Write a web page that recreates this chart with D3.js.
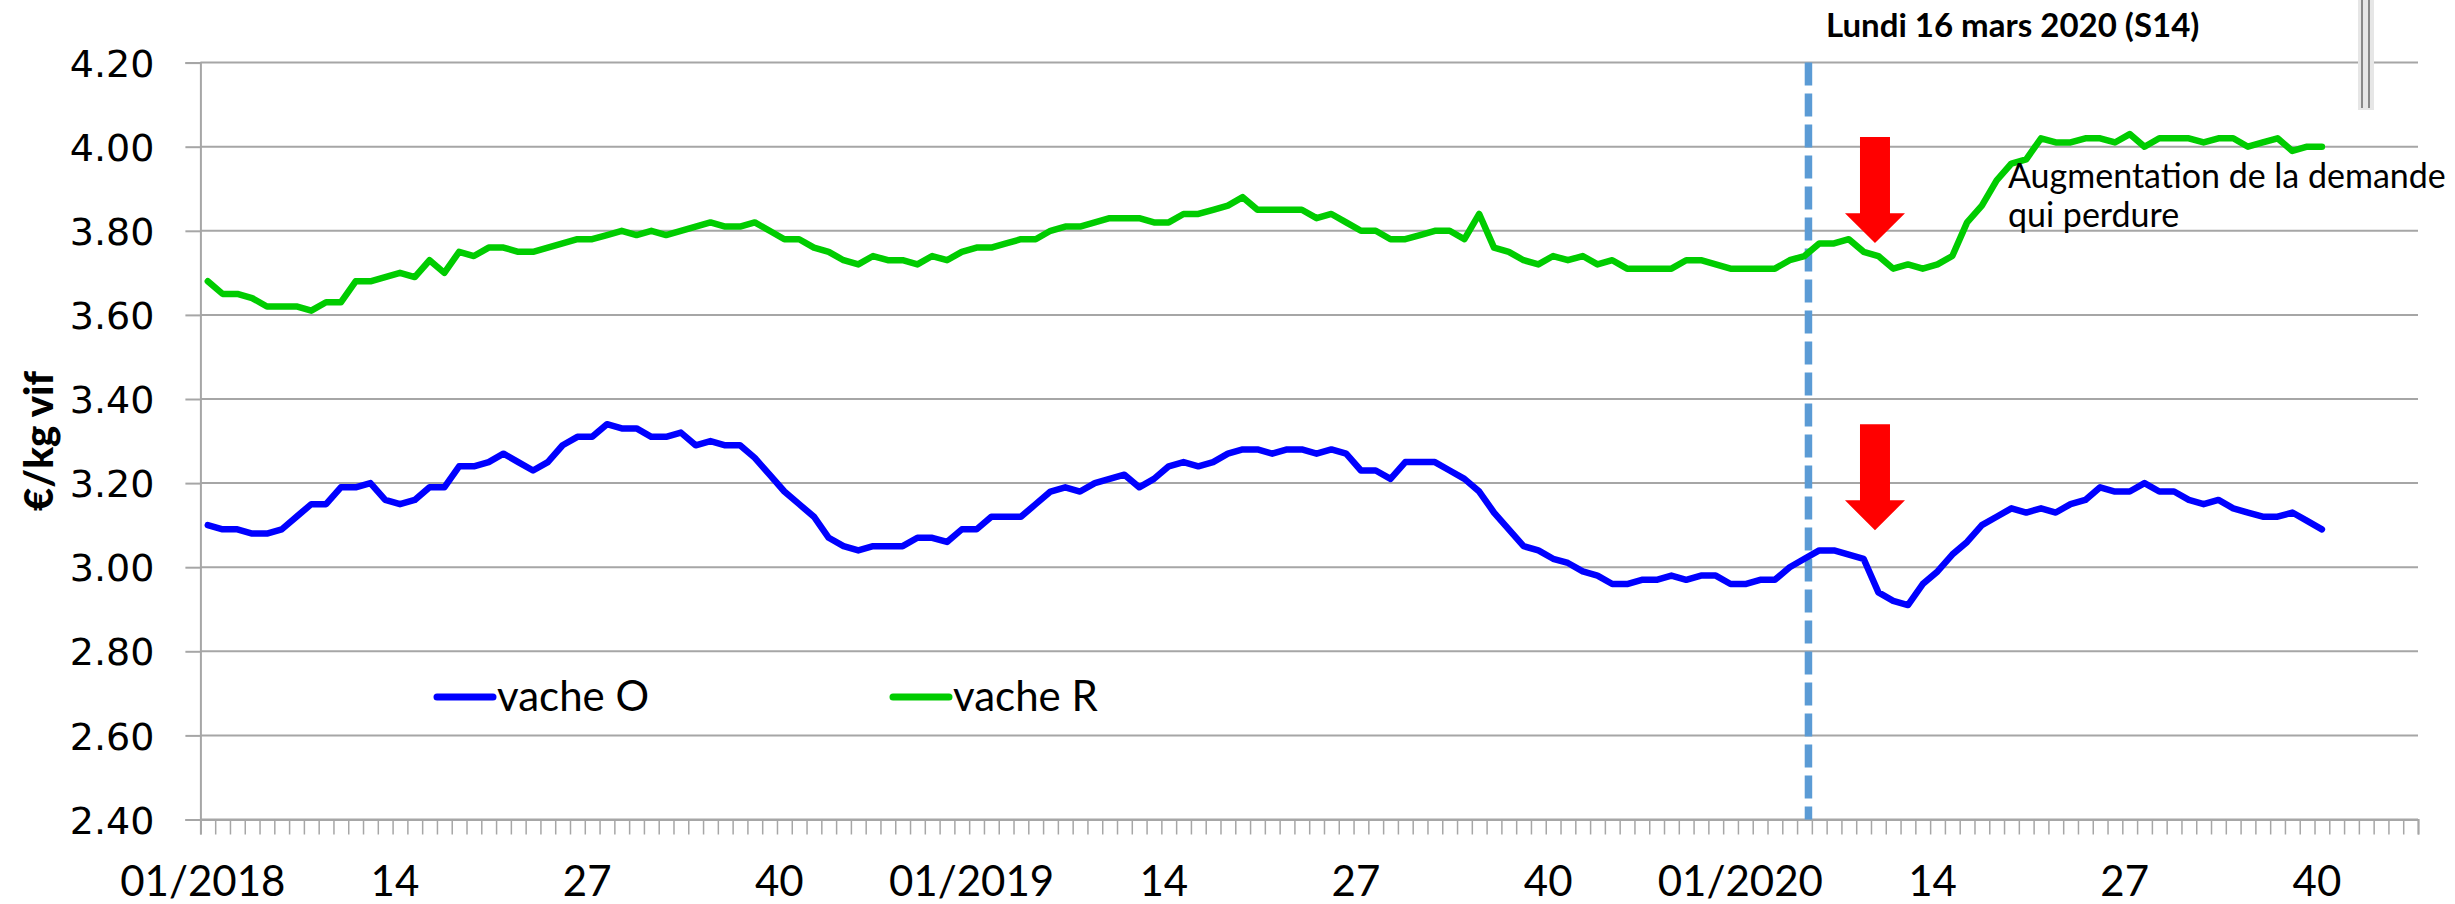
<!DOCTYPE html>
<html><head><meta charset="utf-8">
<script src="https://cdn.jsdelivr.net/npm/d3@7"></script>
<style>body{margin:0;background:#fff;}svg{display:block;}</style>
</head><body>
<svg id="chart" width="2455" height="904"></svg>
<script>
// ---------- DATA ----------
const yearWeeks = [[2018, 52], [2019, 52], [2020, 46]];
const categories = [];
yearWeeks.forEach(([yr, n]) => { for (let w = 1; w <= n; w++) categories.push(yr + "-" + String(w).padStart(2, "0")); });

const tickLabelWeeks = ["2018-01","2018-14","2018-27","2018-40","2019-01","2019-14","2019-27","2019-40","2020-01","2020-14","2020-27","2020-40"];
const tickLabels     = ["01/2018","14","27","40","01/2019","14","27","40","01/2020","14","27","40"];
const yTicks = [2.40, 2.60, 2.80, 3.00, 3.20, 3.40, 3.60, 3.80, 4.00, 4.20];

const vacheO = [
 3.10,3.09,3.09,3.08,3.08,3.09,3.12,3.15,3.15,3.19,
 3.19,3.20,3.16,3.15,3.16,3.19,3.19,3.24,3.24,3.25,
 3.27,3.25,3.23,3.25,3.29,3.31,3.31,3.34,3.33,3.33,
 3.31,3.31,3.32,3.29,3.30,3.29,3.29,3.26,3.22,3.18,
 3.15,3.12,3.07,3.05,3.04,3.05,3.05,3.05,3.07,3.07,
 3.06,3.09,3.09,3.12,3.12,3.12,3.15,3.18,3.19,3.18,
 3.20,3.21,3.22,3.19,3.21,3.24,3.25,3.24,3.25,3.27,
 3.28,3.28,3.27,3.28,3.28,3.27,3.28,3.27,3.23,3.23,
 3.21,3.25,3.25,3.25,3.23,3.21,3.18,3.13,3.09,3.05,
 3.04,3.02,3.01,2.99,2.98,2.96,2.96,2.97,2.97,2.98,
 2.97,2.98,2.98,2.96,2.96,2.97,2.97,3.00,3.02,3.04,
 3.04,3.03,3.02,2.94,2.92,2.91,2.96,2.99,3.03,3.06,
 3.10,3.12,3.14,3.13,3.14,3.13,3.15,3.16,3.19,3.18,
 3.18,3.20,3.18,3.18,3.16,3.15,3.16,3.14,3.13,3.12,
 3.12,3.13,3.11,3.09
];
const vacheR = [
 3.68,3.65,3.65,3.64,3.62,3.62,3.62,3.61,3.63,3.63,
 3.68,3.68,3.69,3.70,3.69,3.73,3.70,3.75,3.74,3.76,
 3.76,3.75,3.75,3.76,3.77,3.78,3.78,3.79,3.80,3.79,
 3.80,3.79,3.80,3.81,3.82,3.81,3.81,3.82,3.80,3.78,
 3.78,3.76,3.75,3.73,3.72,3.74,3.73,3.73,3.72,3.74,
 3.73,3.75,3.76,3.76,3.77,3.78,3.78,3.80,3.81,3.81,
 3.82,3.83,3.83,3.83,3.82,3.82,3.84,3.84,3.85,3.86,
 3.88,3.85,3.85,3.85,3.85,3.83,3.84,3.82,3.80,3.80,
 3.78,3.78,3.79,3.80,3.80,3.78,3.84,3.76,3.75,3.73,
 3.72,3.74,3.73,3.74,3.72,3.73,3.71,3.71,3.71,3.71,
 3.73,3.73,3.72,3.71,3.71,3.71,3.71,3.73,3.74,3.77,
 3.77,3.78,3.75,3.74,3.71,3.72,3.71,3.72,3.74,3.82,
 3.86,3.92,3.96,3.97,4.02,4.01,4.01,4.02,4.02,4.01,
 4.03,4.00,4.02,4.02,4.02,4.01,4.02,4.02,4.00,4.01,
 4.02,3.99,4.00,4.00
];
const seriesNames = ["vache O", "vache R"];
const seriesColors = ["#0000FF", "#00CC00"];
const eventWeek = "2020-05";
const eventLabel = "Lundi 16 mars 2020 (S14)";
const arrowWeek = "2020-10";
const arrowTops = [[4.023, 3.842, 3.771], [3.340, 3.159, 3.088]]; // shaft top, head top, tip
const noteLines = ["Augmentation de la demande", "qui perdure"];

// ---------- LAYOUT ----------
const svg = d3.select("#chart");
const X0 = 200.4, X1 = 2418, Y0 = 819.5, Y1 = 62.6;
const x = d3.scaleBand().domain(categories).range([X0, X1]).padding(0);
const xb = d3.scaleLinear().domain([0, categories.length]).range([X0, X1]);
const y = d3.scaleLinear().domain([2.4, 4.2]).range([Y0, Y1]);
const cx = c => x(c) + x.bandwidth() / 2;
const gridColor = "#a6a6a6";

// gridlines
svg.append("g").selectAll("line").data(yTicks).join("line")
  .attr("x1", X0).attr("x2", X1).attr("y1", d => y(d)).attr("y2", d => y(d))
  .attr("stroke", gridColor).attr("stroke-width", 2);

// y axis
const yAxis = svg.append("g").attr("transform", `translate(${X0},0)`)
  .call(d3.axisLeft(y).tickValues(yTicks).tickSize(15).tickPadding(31).tickFormat(d3.format(".2f")));
yAxis.select(".domain").attr("stroke", gridColor).attr("stroke-width", 2);
yAxis.selectAll(".tick line").attr("stroke", gridColor).attr("stroke-width", 2);
yAxis.selectAll(".tick text").attr("font-family", "'DejaVu Sans', sans-serif").attr("font-size", 38).attr("fill", "#000").attr("dy", "0.36em");

// x axis (ticks at category boundaries)
const xAxis = svg.append("g").attr("transform", `translate(0,${Y0})`)
  .call(d3.axisBottom(xb).tickValues(d3.range(categories.length + 1)).tickSize(15).tickFormat(""));
xAxis.select(".domain").attr("stroke", gridColor).attr("stroke-width", 2);
xAxis.selectAll(".tick line").attr("stroke", gridColor).attr("stroke-width", 1.5);

svg.append("g").selectAll("text").data(tickLabelWeeks).join("text")
  .attr("x", d => cx(d) - 5).attr("y", 896)
  .attr("text-anchor", "middle").attr("font-family", "Lato, sans-serif").attr("font-size", 42).attr("fill", "#000")
  .text((d, i) => tickLabels[i]);

// y axis title
svg.append("text").attr("transform", "translate(53,441) rotate(-90)")
  .attr("text-anchor", "middle").attr("font-family", "Lato, sans-serif").attr("font-weight", "900")
  .attr("font-size", 40).attr("fill", "#000").text("€/kg vif");

// event dashed line
svg.append("line").attr("x1", cx(eventWeek) + 4).attr("x2", cx(eventWeek) + 4)
  .attr("y1", y(4.2)).attr("y2", Y0)
  .attr("stroke", "#5B9BD5").attr("stroke-width", 7.5).attr("stroke-dasharray", "23,8");

// series lines
const line = d3.line().x((d, i) => cx(categories[i])).y(d => y(d));
[vacheO, vacheR].forEach((s, k) => {
  svg.append("path").datum(s).attr("d", line).attr("fill", "none")
    .attr("stroke", seriesColors[k]).attr("stroke-width", 6.5)
    .attr("stroke-linejoin", "round").attr("stroke-linecap", "round");
});

// red arrows
const ax = x(arrowWeek) + 4;
arrowTops.forEach(([t, h, tip]) => {
  const p = d3.path();
  p.moveTo(ax - 15, y(t)); p.lineTo(ax + 15, y(t)); p.lineTo(ax + 15, y(h)); p.lineTo(ax + 30, y(h));
  p.lineTo(ax, y(tip)); p.lineTo(ax - 30, y(h)); p.lineTo(ax - 15, y(h)); p.closePath();
  svg.append("path").attr("d", p.toString()).attr("fill", "#FF0000");
});

// event label
svg.append("text").attr("x", 1826).attr("y", 37)
  .attr("font-family", "Lato, sans-serif").attr("font-weight", "bold").attr("font-size", 33).attr("fill", "#000")
  .text(eventLabel);

// note
svg.append("text").attr("font-family", "Lato, sans-serif").attr("font-size", 34).attr("fill", "#000")
  .selectAll("tspan").data(noteLines).join("tspan")
  .attr("x", 2008).attr("y", (d, i) => 188 + i * 39).text(d => d);

// legend
const leg = [{x: 437, ty: 697}, {x: 893, ty: 697}];
seriesNames.forEach((n, k) => {
  svg.append("line").attr("x1", leg[k].x).attr("x2", leg[k].x + 56).attr("y1", leg[k].ty).attr("y2", leg[k].ty)
    .attr("stroke", seriesColors[k]).attr("stroke-width", 7).attr("stroke-linecap", "round");
  svg.append("text").attr("x", leg[k].x + 60).attr("y", 711)
    .attr("font-family", "Lato, sans-serif").attr("font-size", 42).attr("fill", "#000").text(n);
});

// small grey artefact top right
svg.append("rect").attr("x", 2358).attr("y", 0).attr("width", 16).attr("height", 110).attr("fill", "#e6e6e6");
svg.append("line").attr("x1", 2362).attr("x2", 2362).attr("y1", 0).attr("y2", 108).attr("stroke", "#888").attr("stroke-width", 2);
svg.append("line").attr("x1", 2369).attr("x2", 2369).attr("y1", 0).attr("y2", 108).attr("stroke", "#888").attr("stroke-width", 2);
</script>
</body></html>
